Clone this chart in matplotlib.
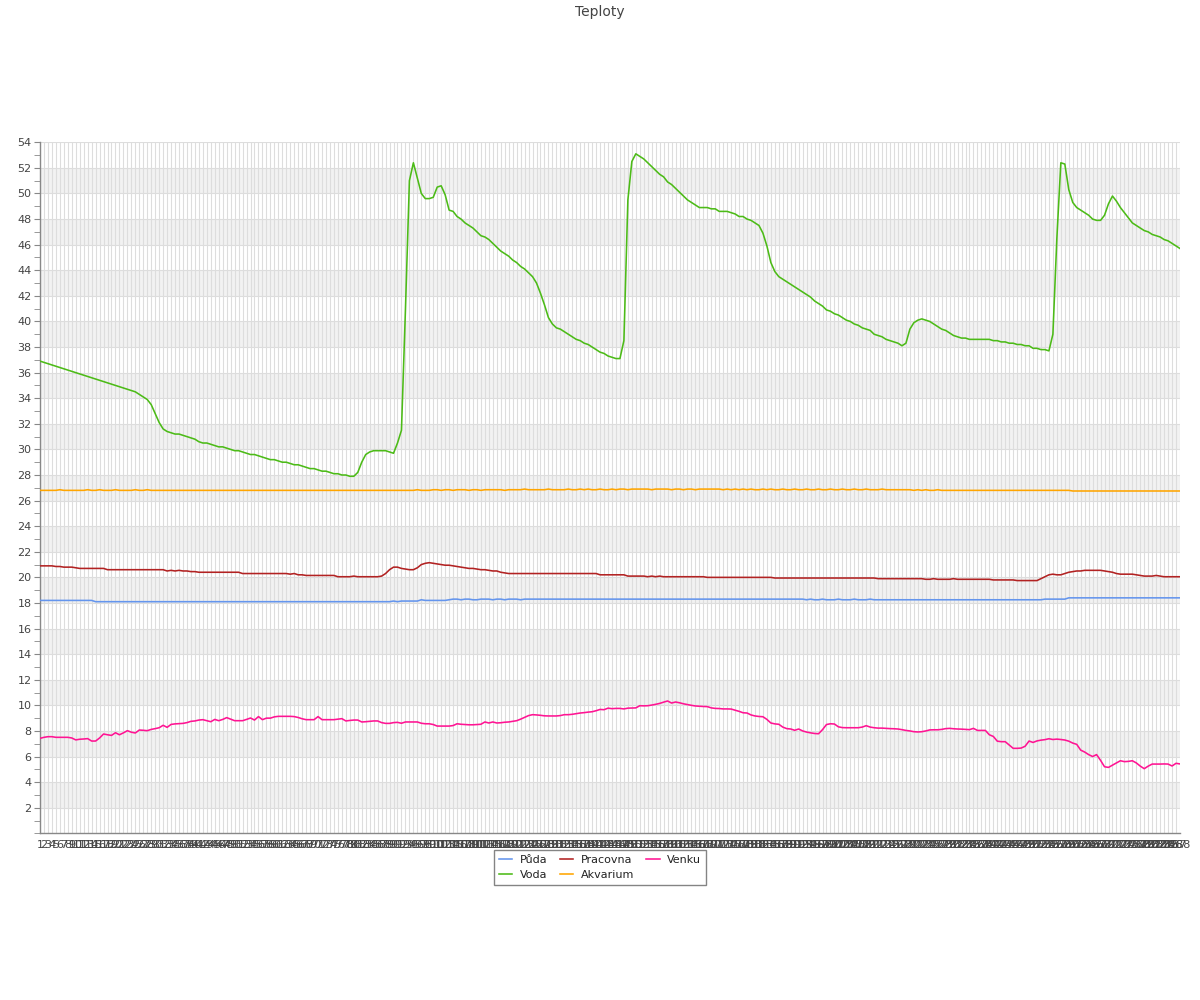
import matplotlib
matplotlib.use("Agg")
import matplotlib.pyplot as plt
from matplotlib.ticker import MultipleLocator

# 288 samples (5 minute steps over a day)
labels = [str(i + 1) for i in range(288)]

puda = (
    [18.2] * 14 + [18.1] * 75 + [18.15, 18.1] + [18.15] * 5 + [18.25] + [18.2] * 6
    + [18.25, 18.3, 18.3, 18.25, 18.3, 18.3, 18.25, 18.25, 18.3, 18.3,
       18.3, 18.25, 18.3, 18.3, 18.25, 18.3, 18.3, 18.3, 18.25, 18.3]
    + [18.3] * 70
    + [18.25, 18.3, 18.25, 18.25, 18.3, 18.25, 18.25, 18.25, 18.3, 18.25,
       18.25, 18.25, 18.3, 18.25, 18.25, 18.25, 18.3, 18.25]
    + [18.25] * 42 + [18.3] * 6 + [18.4] * 29
)

voda = [
    36.9, 36.8, 36.7, 36.6, 36.5, 36.4, 36.3, 36.2, 36.1, 36.0,
    35.9, 35.8, 35.7, 35.6, 35.5, 35.4, 35.3, 35.2, 35.1, 35.0,
    34.9, 34.8, 34.7, 34.6, 34.5, 34.3, 34.1, 33.9, 33.5, 32.8,
    32.1, 31.6, 31.4, 31.3, 31.2, 31.2, 31.1, 31.0, 30.9, 30.8,
    30.6, 30.5, 30.5, 30.4, 30.3, 30.2, 30.2, 30.1, 30.0, 29.9,
    29.9, 29.8, 29.7, 29.6, 29.6, 29.5, 29.4, 29.3, 29.2, 29.2,
    29.1, 29.0, 29.0, 28.9, 28.8, 28.8, 28.7, 28.6, 28.5, 28.5,
    28.4, 28.3, 28.3, 28.2, 28.1, 28.1, 28.0, 28.0, 27.9, 27.9,
    28.2, 29.0, 29.6, 29.8, 29.9, 29.9, 29.9, 29.9, 29.8, 29.7,
    30.5, 31.5, 40.9, 51.0, 52.4, 51.2, 50.0, 49.6, 49.6, 49.7,
    50.5, 50.6, 49.9, 48.7, 48.6, 48.2, 48.0, 47.7, 47.5, 47.3,
    47.0, 46.7, 46.6, 46.4, 46.1, 45.8, 45.5, 45.3, 45.1, 44.8,
    44.6, 44.3, 44.1, 43.8, 43.5, 43.0, 42.2, 41.3, 40.3, 39.8,
    39.5, 39.4, 39.2, 39.0, 38.8, 38.6, 38.5, 38.3, 38.2, 38.0,
    37.8, 37.6, 37.5, 37.3, 37.2, 37.1, 37.1, 38.5, 49.5, 52.5,
    53.1, 52.9, 52.7, 52.4, 52.1, 51.8, 51.5, 51.3, 50.9, 50.7,
    50.4, 50.1, 49.8, 49.5, 49.3, 49.1, 48.9, 48.9, 48.9, 48.8,
    48.8, 48.6, 48.6, 48.6, 48.5, 48.4, 48.2, 48.2, 48.0, 47.9,
    47.7, 47.5, 46.9, 45.9, 44.6, 43.9, 43.5, 43.3, 43.1, 42.9,
    42.7, 42.5, 42.3, 42.1, 41.9, 41.6, 41.4, 41.2, 40.9, 40.8,
    40.6, 40.5, 40.3, 40.1, 40.0, 39.8, 39.7, 39.5, 39.4, 39.3,
    39.0, 38.9, 38.8, 38.6, 38.5, 38.4, 38.3, 38.1, 38.3, 39.4,
    39.9, 40.1, 40.2, 40.1, 40.0, 39.8, 39.6, 39.4, 39.3, 39.1,
    38.9, 38.8, 38.7, 38.7, 38.6, 38.6, 38.6, 38.6, 38.6, 38.6,
    38.5, 38.5, 38.4, 38.4, 38.3, 38.3, 38.2, 38.2, 38.1, 38.1,
    37.9, 37.9, 37.8, 37.8, 37.7, 39.0, 46.5, 52.4, 52.3, 50.3,
    49.3, 48.9, 48.7, 48.5, 48.3, 48.0, 47.9, 47.9, 48.3, 49.2,
    49.8, 49.4, 48.9, 48.5, 48.1, 47.7, 47.5, 47.3, 47.1, 47.0,
    46.8, 46.7, 46.6, 46.4, 46.3, 46.1, 45.9, 45.7,
]

pracovna = (
    [20.9] * 4 + [20.85, 20.85, 20.8, 20.8, 20.8, 20.75] + [20.7] * 7 + [20.6] * 15
    + [20.5, 20.55, 20.5, 20.55, 20.5, 20.5, 20.45, 20.45, 20.4, 20.4]
    + [20.4] * 9 + [20.3] * 11 + [20.3, 20.25, 20.3, 20.2, 20.2] + [20.15] * 8
    + [20.05, 20.05, 20.05, 20.05, 20.1, 20.05, 20.05, 20.05, 20.05, 20.05, 20.05, 20.1]
    + [20.3, 20.6, 20.8, 20.8, 20.7, 20.65, 20.6, 20.6, 20.75, 21.0,
       21.1, 21.15, 21.1, 21.05, 21.0, 20.95, 20.95, 20.9, 20.85, 20.8,
       20.75, 20.7, 20.7, 20.65, 20.6, 20.6, 20.55, 20.5, 20.5]
    + [20.4, 20.35] + [20.3] * 23 + [20.2] * 7 + [20.1] * 5
    + [20.05, 20.1, 20.05, 20.1] + [20.05] * 11 + [20.0] * 17 + [19.95] * 26
    + [19.9] * 12
    + [19.85, 19.85, 19.9, 19.85, 19.85, 19.85, 19.85, 19.9, 19.85, 19.85,
       19.85, 19.85, 19.85, 19.85, 19.85, 19.85, 19.85]
    + [19.8] * 6 + [19.75] * 6
    + [19.9, 20.05, 20.2, 20.25, 20.2, 20.2, 20.3, 20.4, 20.45, 20.5,
       20.5, 20.55, 20.55, 20.55, 20.55, 20.55, 20.5, 20.45, 20.4, 20.3,
       20.25, 20.25, 20.25, 20.25, 20.2, 20.15, 20.1, 20.1, 20.1, 20.15,
       20.1, 20.05, 20.05, 20.05, 20.05, 20.05]
)

akvarium = (
    [26.8, 26.8, 26.8, 26.8, 26.8, 26.85, 26.8, 26.8, 26.8, 26.8,
     26.8, 26.8, 26.85, 26.8, 26.8, 26.85, 26.8, 26.8, 26.8, 26.85,
     26.8, 26.8, 26.8, 26.8, 26.85, 26.8, 26.8, 26.85, 26.8, 26.8]
    + [26.8] * 60
    + [26.8, 26.8, 26.8, 26.8, 26.8, 26.85, 26.8, 26.8, 26.8, 26.85,
       26.85, 26.8, 26.85, 26.85, 26.8, 26.85, 26.85, 26.85, 26.8, 26.85,
       26.85, 26.8, 26.85, 26.85, 26.85, 26.85, 26.85, 26.8, 26.85, 26.85,
       26.85, 26.85, 26.9, 26.85, 26.85, 26.85, 26.85, 26.85, 26.9, 26.85,
       26.85, 26.85, 26.85, 26.9, 26.85, 26.85, 26.9, 26.85, 26.9, 26.85,
       26.85, 26.9, 26.85, 26.85, 26.9, 26.85, 26.9, 26.9, 26.85, 26.9,
       26.9, 26.9, 26.9, 26.9, 26.85, 26.9, 26.9, 26.9, 26.9, 26.85,
       26.9, 26.9, 26.85, 26.9, 26.9, 26.85, 26.9, 26.9, 26.9, 26.9,
       26.9, 26.9, 26.85, 26.9, 26.85, 26.9, 26.85, 26.9, 26.85, 26.9,
       26.85, 26.85, 26.9, 26.85, 26.9, 26.85, 26.85, 26.9, 26.85, 26.85,
       26.9, 26.85, 26.85, 26.9, 26.85, 26.85, 26.9, 26.85, 26.85, 26.9,
       26.85, 26.85, 26.9, 26.85, 26.85, 26.9, 26.85, 26.85, 26.9, 26.85,
       26.85, 26.85, 26.9, 26.85, 26.85, 26.85, 26.85, 26.85, 26.85, 26.85,
       26.8, 26.85, 26.8, 26.85, 26.8, 26.8, 26.85, 26.8, 26.8, 26.8]
    + [26.8] * 30 + [26.75] * 28
)

venku = [
    7.42, 7.5, 7.55, 7.55, 7.5, 7.5, 7.5, 7.5, 7.45, 7.3,
    7.35, 7.37, 7.4, 7.21, 7.21, 7.45, 7.76, 7.7, 7.65, 7.86,
    7.7, 7.85, 8.02, 7.9, 7.84, 8.07, 8.05, 8.02, 8.12, 8.18,
    8.25, 8.44, 8.28, 8.51, 8.55, 8.57, 8.59, 8.65, 8.75, 8.78,
    8.85, 8.88, 8.8, 8.72, 8.9, 8.8, 8.9, 9.04, 8.92, 8.8,
    8.8, 8.8, 8.9, 9.01, 8.85, 9.12, 8.88, 9.0, 9.0, 9.1,
    9.14, 9.14, 9.14, 9.14, 9.12, 9.05, 8.95, 8.88, 8.88, 8.88,
    9.12, 8.88, 8.88, 8.88, 8.88, 8.92, 8.96, 8.78, 8.82, 8.85,
    8.85, 8.7, 8.72, 8.75, 8.78, 8.78, 8.65, 8.59, 8.59, 8.65,
    8.67, 8.6, 8.7, 8.7, 8.7, 8.7, 8.6, 8.56, 8.56, 8.5,
    8.38, 8.38, 8.38, 8.38, 8.42, 8.56, 8.52, 8.5, 8.48, 8.48,
    8.5, 8.52, 8.7, 8.62, 8.7, 8.62, 8.64, 8.68, 8.7, 8.75,
    8.8, 8.92, 9.06, 9.2, 9.27, 9.25, 9.22, 9.18, 9.17, 9.17,
    9.17, 9.2, 9.27, 9.27, 9.3, 9.35, 9.4, 9.43, 9.47, 9.5,
    9.58, 9.68, 9.66, 9.78, 9.74, 9.76, 9.76, 9.72, 9.78, 9.79,
    9.8, 9.97, 9.96, 9.97, 10.02, 10.08, 10.15, 10.25, 10.34, 10.18,
    10.26, 10.2, 10.12, 10.06, 10.0, 9.95, 9.93, 9.91, 9.9, 9.8,
    9.76, 9.75, 9.72, 9.72, 9.71, 9.62, 9.53, 9.42, 9.4, 9.25,
    9.17, 9.13, 9.11, 8.9, 8.62, 8.55, 8.52, 8.3, 8.18, 8.15,
    8.05, 8.15, 8.0, 7.91, 7.85, 7.8, 7.78, 8.1, 8.5, 8.56,
    8.54, 8.32, 8.26, 8.25, 8.25, 8.25, 8.25, 8.3, 8.41, 8.3,
    8.25, 8.22, 8.22, 8.2, 8.18, 8.17, 8.15, 8.1, 8.04, 8.0,
    7.94, 7.92, 7.94, 8.0, 8.08, 8.09, 8.09, 8.12, 8.18, 8.2,
    8.17, 8.15, 8.14, 8.12, 8.1, 8.2, 8.04, 8.04, 8.04, 7.7,
    7.57, 7.2, 7.16, 7.16, 6.9, 6.64, 6.64, 6.66, 6.8, 7.21,
    7.1, 7.22, 7.28, 7.32, 7.39, 7.33, 7.36, 7.33, 7.29, 7.2,
    7.05, 6.95, 6.5, 6.35, 6.15, 6.0, 6.15, 5.7, 5.2, 5.15,
    5.33, 5.5, 5.67, 5.6, 5.62, 5.67, 5.5, 5.25, 5.05, 5.25,
    5.41, 5.41, 5.41, 5.42, 5.41, 5.26, 5.47, 5.42,
]

series = [
    ("Půda", puda, "#6495ed"),
    ("Voda", voda, "#4cbb17"),
    ("Pracovna", pracovna, "#b22222"),
    ("Akvarium", akvarium, "#ffa500"),
    ("Venku", venku, "#ff1493"),
]

plt.rcParams["font.family"] = ["DejaVu Sans"]
text_col = "#444444"

fig = plt.figure(figsize=(12, 10), dpi=100)
ax = fig.add_axes([40 / 1200, 1 - 833.3 / 1000, 1140 / 1200, 691 / 1000])

x = list(range(len(labels)))
for name, vals, col in series:
    ax.plot(x, vals, color=col, lw=1.15, label=name, zorder=3)

# alternating bands
for lo in range(2, 54, 4):
    ax.axhspan(lo, lo + 2, color="#f2f2f2", lw=0, zorder=0)

ax.set_xlim(0, len(labels) - 1)
ax.set_ylim(0, 54)
ax.set_xticks(x)
ax.set_xticklabels(labels, fontsize=8, color=text_col)
ax.yaxis.set_major_locator(MultipleLocator(2))
ax.yaxis.set_minor_locator(MultipleLocator(1))
ax.set_yticks(range(2, 55, 2))
ax.set_yticklabels([str(v) for v in range(2, 55, 2)], fontsize=8, color=text_col)

ax.set_axisbelow(True)
ax.grid(True, which="major", color="#dddddd", lw=0.8, zorder=1)
ax.tick_params(axis="x", length=0, pad=5)
ax.tick_params(axis="y", which="major", length=4, color="#888888", pad=2)
ax.tick_params(axis="y", which="minor", length=4, color="#888888")
for side in ("top", "right"):
    ax.spines[side].set_visible(False)
for side in ("left", "bottom"):
    ax.spines[side].set_color("#888888")
    ax.spines[side].set_linewidth(1)

fig.text(0.5, 0.995, "Teploty", ha="center", va="top", fontsize=10, color=text_col)

leg = ax.legend(loc="upper center", bbox_to_anchor=(0.5, 0.150),
                bbox_transform=fig.transFigure, ncol=3, fontsize=8,
                frameon=True, fancybox=False, edgecolor="#666666",
                handlelength=1.2, handletextpad=0.7, columnspacing=1.1,
                borderpad=0.45, labelspacing=0.45, borderaxespad=0)
leg.get_frame().set_linewidth(1)
for t in leg.get_texts():
    t.set_color("#222222")

fig.savefig("out.png", dpi=100)
